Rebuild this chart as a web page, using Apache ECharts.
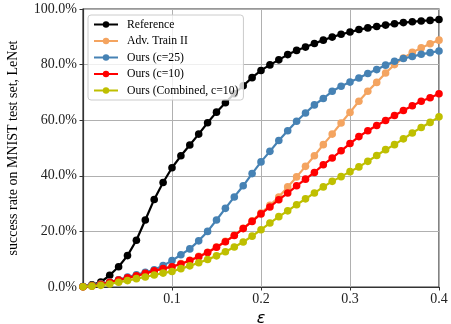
<!DOCTYPE html>
<html>
<head>
<meta charset="utf-8">
<script src="https://cdn.jsdelivr.net/npm/echarts@6/dist/echarts.min.js"></script>
<style>
  html, body { margin: 0; padding: 0; background: #fff; }
  #chart { width: 451px; height: 324px; }
</style>
</head>
<body>
<div id="chart"></div>
<script>
// Perturbation budget (epsilon) values
const eps = [0.00, 0.01, 0.02, 0.03, 0.04, 0.05, 0.06, 0.07, 0.08, 0.09,
             0.10, 0.11, 0.12, 0.13, 0.14, 0.15, 0.16, 0.17, 0.18, 0.19,
             0.20, 0.21, 0.22, 0.23, 0.24, 0.25, 0.26, 0.27, 0.28, 0.29,
             0.30, 0.31, 0.32, 0.33, 0.34, 0.35, 0.36, 0.37, 0.38, 0.39, 0.40];

// Attack success rates (%)
const reference = [0.2, 0.8, 1.8, 4.2, 7.3, 11.3, 16.8, 24.1, 31.5, 37.6,
                   42.9, 47.2, 51.1, 55.0, 59.1, 62.9, 66.3, 69.5, 72.4, 75.3,
                   77.9, 79.9, 81.7, 83.6, 85.1, 86.3, 87.6, 88.8, 89.9, 90.9,
                   91.7, 92.6, 93.2, 93.7, 94.2, 94.7, 95.1, 95.4, 95.7, 95.9, 96.2];
const advTrain2 = [0.1, 0.5, 1.1, 1.8, 2.6, 3.4, 4.1, 5.0, 5.9, 6.7,
                   7.4, 8.4, 9.6, 11.0, 12.5, 14.4, 16.4, 18.6, 21.1, 23.8,
                   26.6, 29.4, 32.4, 36.0, 39.6, 43.4, 47.2, 51.2, 55.0, 59.0,
                   62.8, 66.8, 70.4, 73.6, 77.0, 80.0, 82.4, 84.4, 86.0, 87.5, 88.8];
const oursC25 = [0.2, 0.5, 1.1, 1.8, 2.6, 3.6, 4.4, 5.3, 6.2, 7.7,
                 9.5, 11.6, 13.7, 16.6, 20.0, 24.1, 28.3, 32.4, 36.4, 40.8,
                 45.0, 48.8, 52.7, 56.2, 59.6, 62.6, 65.5, 67.8, 70.4, 72.2,
                 73.7, 75.2, 76.8, 78.2, 79.8, 81.2, 82.2, 82.9, 83.7, 84.3, 84.9];
const oursC10 = [0.1, 0.4, 1.0, 1.7, 2.5, 3.3, 4.0, 4.9, 5.8, 6.6,
                 7.3, 8.3, 9.5, 10.9, 12.4, 14.3, 16.3, 18.5, 21.0, 23.6,
                 26.3, 28.8, 31.4, 33.8, 36.4, 38.8, 41.2, 44.0, 46.4, 49.0,
                 51.6, 54.1, 56.2, 58.1, 59.9, 61.7, 63.5, 65.2, 66.8, 68.1, 69.5];
const oursCombined = [0.1, 0.3, 0.6, 1.1, 1.7, 2.3, 3.0, 3.6, 4.3, 5.0,
                      5.6, 6.6, 7.6, 8.7, 9.9, 11.2, 12.7, 14.4, 16.2, 18.3,
                      20.6, 23.0, 25.3, 27.4, 29.6, 31.7, 33.8, 36.0, 38.0, 39.7,
                      41.5, 43.2, 45.2, 47.3, 49.4, 51.2, 53.3, 55.4, 57.4, 59.2, 61.2];

const xTicks = [0.1, 0.2, 0.3, 0.4];

const serif = 'Liberation Serif';

function pairs(values) {
  return values.map((v, i) => [eps[i], v]);
}

function lineSeries(name, values, color, z) {
  return {
    name: name,
    type: 'line',
    data: pairs(values),
    symbol: 'circle',
    symbolSize: 7.6,
    showSymbol: true,
    clip: true,
    z: z,
    lineStyle: { color: color, width: 2.2 },
    itemStyle: { color: color, borderWidth: 0 },
    emphasis: { disabled: true },
    animation: false
  };
}

const chart = echarts.init(document.getElementById('chart'), null, { renderer: 'canvas' });

chart.setOption({
  animation: false,
  backgroundColor: '#ffffff',
  grid: {
    left: 83, right: 12, top: 9, bottom: 37,
    containLabel: false, outerBoundsMode: 'none',
    show: true, borderColor: '#333333', borderWidth: 1.2, backgroundColor: 'transparent'
  },
  legend: {
    orient: 'vertical',
    left: 88, top: 15,
    itemWidth: 24, itemHeight: 8, itemGap: 3.5,
    padding: [3, 5, 3, 5],
    backgroundColor: 'rgba(255,255,255,0.8)',
    borderColor: '#cccccc', borderWidth: 1, borderRadius: 3,
    textStyle: { fontFamily: serif, fontSize: 11.7, color: '#000', padding: [0, 0, 0, 4], lineHeight: 13 },
    data: ['Reference', 'Adv. Train II', 'Ours (c=25)', 'Ours (c=10)', 'Ours (Combined, c=10)']
  },
  xAxis: {
    type: 'value',
    min: 0, max: 0.4, interval: 0.1,
    name: 'ε', nameLocation: 'middle', nameGap: 21,
    nameTextStyle: { fontFamily: 'DejaVu Sans', fontStyle: 'italic', fontSize: 16, color: '#000' },
    axisLine: { show: true, lineStyle: { color: '#333333', width: 1.2 } },
    axisTick: { show: true, inside: false, length: 3.5, lineStyle: { color: '#333333' },
                customValues: xTicks },
    axisLabel: {
      fontFamily: serif, fontSize: 14, color: '#222', margin: 5,
      customValues: xTicks,
      formatter: v => (v === 0 ? '' : String(Math.round(v * 10) / 10))
    },
    splitLine: { show: true, lineStyle: { color: '#b0b0b0', width: 1 } }
  },
  yAxis: {
    type: 'value',
    min: 0, max: 100, interval: 20,
    name: 'success rate on MNIST test set, LeNet',
    nameLocation: 'middle', nameGap: 63, nameRotate: 90,
    nameTextStyle: { fontFamily: serif, fontSize: 14, color: '#000' },
    axisLine: { show: true, lineStyle: { color: '#333333', width: 1.2 } },
    axisTick: { show: true, inside: false, length: 3.5, lineStyle: { color: '#333333' } },
    axisLabel: {
      fontFamily: serif, fontSize: 14, color: '#222', margin: 6,
      formatter: v => v.toFixed(1) + '%'
    },
    splitLine: { show: true, lineStyle: { color: '#b0b0b0', width: 1 } }
  },
  // later series are drawn over earlier ones
  series: [
    lineSeries('Reference', reference, '#000000', 2),
    lineSeries('Adv. Train II', advTrain2, '#f4a460', 3),
    lineSeries('Ours (c=25)', oursC25, '#4682b4', 4),
    lineSeries('Ours (c=10)', oursC10, '#ff0000', 5),
    lineSeries('Ours (Combined, c=10)', oursCombined, '#bfbf00', 6)
  ]
});
</script>
</body>
</html>
